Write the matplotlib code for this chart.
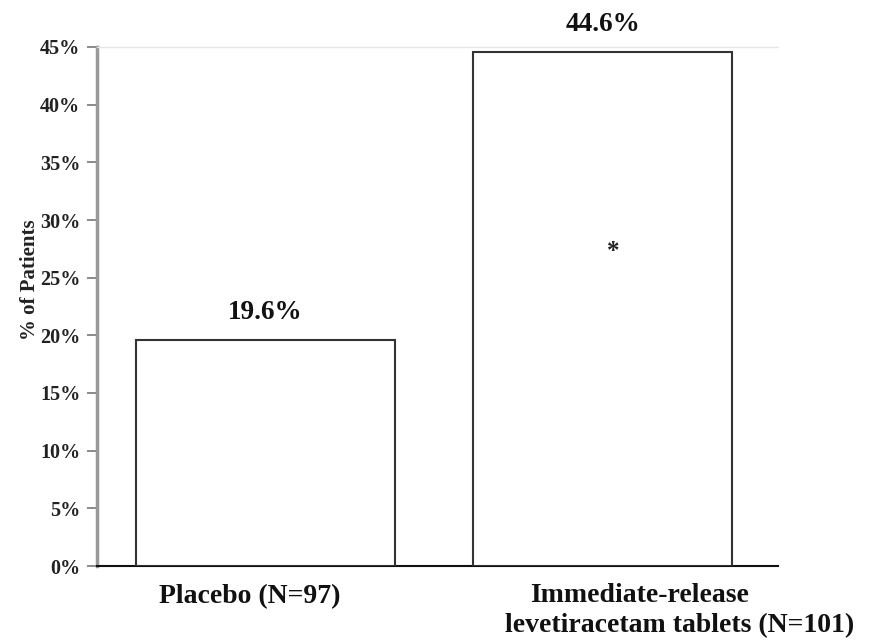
import matplotlib
matplotlib.use("Agg")
import matplotlib.pyplot as plt
import matplotlib.transforms as mtransforms
from matplotlib.ticker import FuncFormatter

categories = ["Placebo (N=97)", "Immediate-release\nlevetiracetam tablets (N=101)"]
values = [19.6, 44.6]
bar_labels = ["19.6%", "44.6%"]
yticks = [0, 5, 10, 15, 20, 25, 30, 35, 40, 45]
sig_marker = "*"
sig_position = (1.03, 27.3)

plt.rcParams['font.family'] = ['Liberation Serif', 'DejaVu Serif']
plt.rcParams['font.weight'] = 'bold'

fig = plt.figure(figsize=(8.75, 6.43), dpi=100)
ax = fig.add_axes([97/875, 1 - 566/643, (778-97)/875, (566-47)/643])

x = list(range(len(categories)))
ax.bar(x, values, width=0.77, color='white', edgecolor='#333333', linewidth=1.5, zorder=3)

for xi, v, lab in zip(x, values, bar_labels):
    ax.annotate(lab, (xi, v), xytext=(0, 15), textcoords='offset points',
                ha='center', va='baseline', fontsize=19.5, fontweight='bold', color='#111111')

ax.text(sig_position[0], sig_position[1], sig_marker, ha='center', va='center',
        fontsize=18, fontweight='bold', color='#222222')

ax.set_xlim(-0.5, 1.52)
ax.set_ylim(0, 45)
ax.set_yticks(yticks)
ax.yaxis.set_major_formatter(FuncFormatter(lambda v, p: f"{int(v)}%"))
ax.set_xticks(x)
ax.set_xticklabels([])
ax.tick_params(axis='x', length=0)
ax.tick_params(axis='y', length=7, width=1.2, color='#777777', labelsize=14.5,
               labelcolor='#222222', pad=5)
for lbl in ax.get_yticklabels():
    lbl.set_fontweight('bold')

# category labels (each line placed separately, as in the reference)
line_offsets = {0: [(-16, -31)], 1: [(37, -30), (77, -60)]}
blend = mtransforms.blended_transform_factory(ax.transData, ax.transAxes)
for xi, cat in zip(x, categories):
    for line, (dx, dy) in zip(cat.split("\n"), line_offsets[xi]):
        tr = blend + mtransforms.ScaledTranslation(dx/100, dy/100, fig.dpi_scale_trans)
        ax.text(xi, 0, line, transform=tr, ha='center', va='center',
                fontsize=20, fontweight='bold', color='#111111')

ax.set_ylabel("% of Patients", fontsize=15, fontweight='bold', color='#222222', labelpad=0)
ax.yaxis.label.set_y((566-280)/519)

ax.spines['left'].set_color('#999999')
ax.spines['left'].set_linewidth(2.5)
ax.spines['bottom'].set_color('#111111')
ax.spines['bottom'].set_linewidth(1.5)
ax.spines['top'].set_color('#e6e6e6')
ax.spines['top'].set_linewidth(1)
ax.spines['right'].set_visible(False)

fig.savefig("out.png", dpi=100, facecolor='white')
